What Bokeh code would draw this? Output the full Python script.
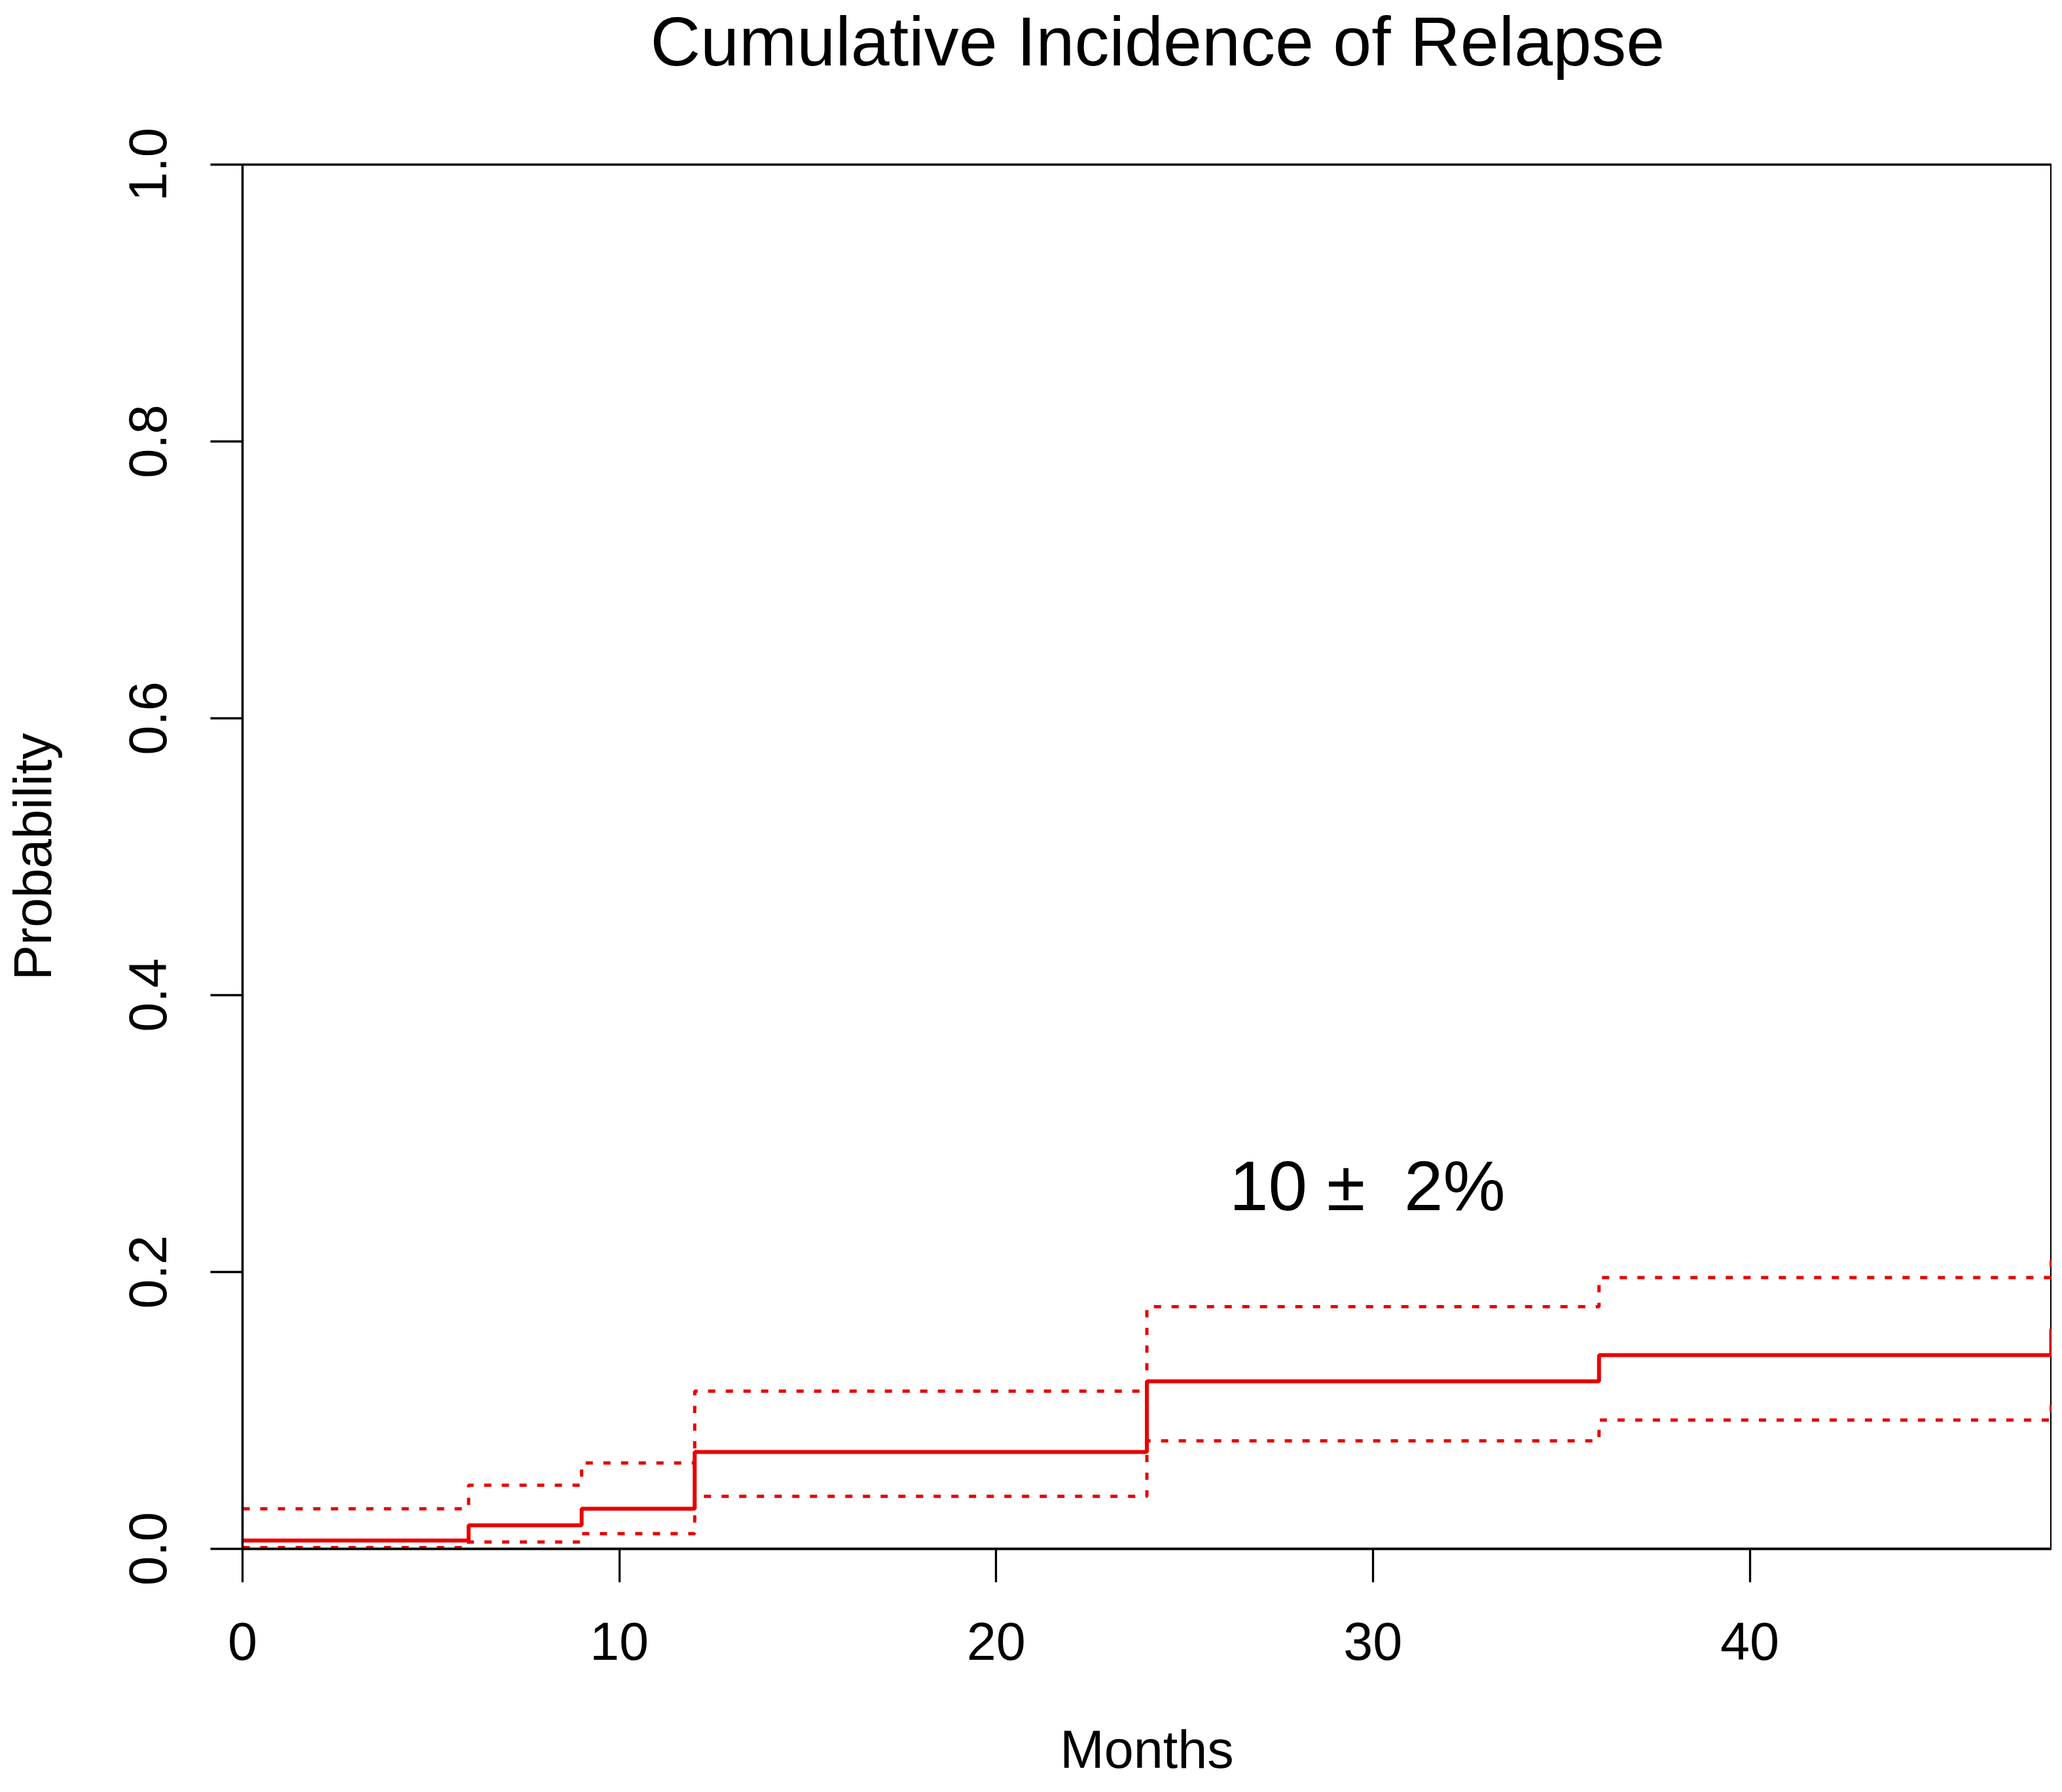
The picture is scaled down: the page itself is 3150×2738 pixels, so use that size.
from bokeh.plotting import figure
from bokeh.models import FixedTicker, NumeralTickFormatter, ColumnDataSource
from bokeh.core.properties import value
from bokeh.embed import file_html
from bokeh.resources import INLINE

# ---- data (step function, value holds until next time) ----
months = [0, 6, 9, 12, 24, 36, 48]
cir = [0.006, 0.017, 0.029, 0.070, 0.121, 0.140, 0.159]
cir_upper = [0.029, 0.046, 0.062, 0.114, 0.175, 0.196, 0.214]
cir_lower = [0.001, 0.005, 0.011, 0.038, 0.078, 0.093, 0.108]

x_ticks = [0, 10, 20, 30, 40]
y_ticks = [0.0, 0.2, 0.4, 0.6, 0.8, 1.0]

title_text = "Cumulative Incidence of Relapse"
x_label = "Months"
y_label = "Probability"
ann_text = "10 \u00b1\u00a0 2%"
ann_x = 29.85
ann_y = 0.262

FONT = "Liberation Sans"
RED = "#e80000"

p = figure(width=3134, height=2722, output_backend="svg", toolbar_location=None,
           x_range=(0, 48), y_range=(0, 1),
           min_border_left=370, min_border_right=1, min_border_top=251, min_border_bottom=356,
           title=title_text)

src = ColumnDataSource(dict(t=months, est=cir, up=cir_upper, lo=cir_lower))
p.step("t", "est", source=src, mode="after", line_color=RED, line_width=6)
p.step("t", "up", source=src, mode="after", line_color=RED, line_width=5, line_dash="11 16")
p.step("t", "lo", source=src, mode="after", line_color=RED, line_width=5, line_dash="11 16")

p.text(x=[ann_x], y=[ann_y], text=[ann_text], text_align="center", text_baseline="alphabetic",
       text_font=value(FONT), text_font_size="107px", text_color="black")

# title
p.title.text_font = FONT
p.title.text_font_size = "106px"
p.title.text_font_style = "normal"
p.title.text_color = "black"
p.title.align = "left"
p.title.offset = 623
p.title.standoff = 0
try:
    p.title.padding = dict(left=0, right=0, top=0, bottom=130)
except Exception:
    p.title.standoff = 130

# grid / outline
p.xgrid.visible = False
p.ygrid.visible = False
p.outline_line_color = "black"
p.outline_line_width = 3.3
p.outline_line_alpha = 1.0
p.background_fill_color = "white"
p.border_fill_color = "white"

# axes
xa = p.xaxis[0]
xa.ticker = FixedTicker(ticks=x_ticks)
xa.axis_label = x_label
ya = p.yaxis[0]
ya.ticker = FixedTicker(ticks=y_ticks)
ya.formatter = NumeralTickFormatter(format="0.0")
ya.axis_label = y_label

for ax in (xa, ya):
    ax.axis_line_color = "black"
    ax.axis_line_width = 3.3
    ax.major_tick_line_color = "black"
    ax.major_tick_line_width = 3.3
    ax.major_tick_in = 0
    ax.minor_tick_line_color = None
    ax.major_label_text_font = FONT
    ax.major_label_text_font_size = "81px"
    ax.major_label_text_color = "black"
    ax.axis_label_text_font = FONT
    ax.axis_label_text_font_size = "81px"
    ax.axis_label_text_font_style = "normal"
    ax.axis_label_text_color = "black"

xa.major_tick_out = 51
xa.major_label_standoff = 61
xa.axis_label_standoff = 89

ya.major_tick_out = 49
ya.major_label_standoff = 68
ya.major_label_orientation = "vertical"
ya.axis_label_standoff = 99

open("out.html", "w").write(file_html(p, INLINE))
